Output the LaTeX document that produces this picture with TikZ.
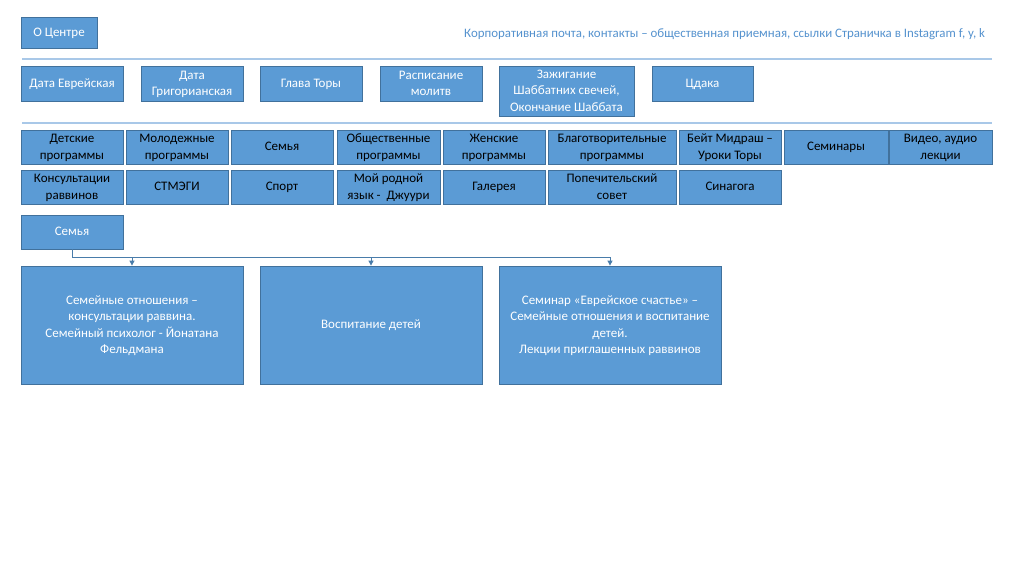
\documentclass[tikz,border=0pt]{standalone}
\usepackage{fontspec}
\setmainfont{Carlito}
\usetikzlibrary{arrows.meta}
\definecolor{boxfill}{HTML}{5B9BD5}
\definecolor{boxline}{HTML}{41719C}
\definecolor{sepline}{HTML}{A9C8E8}
\definecolor{headtxt}{HTML}{5592CE}
\newcommand{\bt}[1]{\smash{\raisebox{-3.5pt}{\begin{tabular}{@{}c@{}}#1\end{tabular}}}}
\tikzset{
  x=1pt, y=-1pt,
  box/.style={draw=boxline, fill=boxfill, line width=0.8pt, inner sep=0pt,
    font=\fontsize{13}{16.5}\selectfont, text=white},
  darktxt/.style={text=black},
  sep/.style={draw=sepline, line width=1.6pt},
  conn/.style={draw=boxfill!80!black, line width=0.9pt},
  arr/.style={conn, -{Triangle[width=5pt,length=5pt]}},
}
\begin{document}
\begin{tikzpicture}
\useasboundingbox (0,0) rectangle (1024,574);
% top
\node[box, minimum width=76pt, minimum height=31pt] (oc) at (59,32.5) {\bt{О Центре}};
\node[anchor=west, text=headtxt, font=\fontsize{12.9}{16}\selectfont, inner sep=0pt] (hd) at (464,34.5)
  {Корпоративная почта, контакты – общественная приемная, ссылки Страничка в Instagram f, y, k};
\draw[sep] (22,59) -- (992,59);
% row 1
\node[box, minimum width=102pt, minimum height=35pt] (de) at (72,83.5) {\bt{Дата Еврейская}};
\node[box, minimum width=102pt, minimum height=35pt] (dg) at (192,83.5) {\bt{Дата\\Григорианская}};
\node[box, minimum width=102pt, minimum height=35pt] (gt) at (311,83.5) {\bt{Глава Торы}};
\node[box, minimum width=102pt, minimum height=35pt] (rm) at (431,83.5) {\bt{Расписание\\молитв}};
\node[box, minimum width=135pt, minimum height=50pt] (zs) at (566.5,91) {\bt{Зажигание\\Шаббатних свечей,\\Окончание Шаббата}};
\node[box, minimum width=101pt, minimum height=35pt] (cd) at (702.5,83.5) {\bt{Цдака}};
\draw[sep] (22,123) -- (992,123);
% row 2
\node[box, darktxt, minimum width=102pt, minimum height=34pt] (r2a) at (72,147) {\bt{Детские\\программы}};
\node[box, darktxt, minimum width=102pt, minimum height=34pt] (r2b) at (177,147) {\bt{Молодежные\\программы}};
\node[box, darktxt, minimum width=102pt, minimum height=34pt] (r2c) at (282,147) {\bt{Семья}};
\node[box, darktxt, minimum width=103pt, minimum height=34pt] (r2d) at (388.5,147) {\bt{Общественные\\программы}};
\node[box, darktxt, minimum width=102pt, minimum height=34pt] (r2e) at (494,147) {\bt{Женские\\программы}};
\node[box, darktxt, minimum width=128pt, minimum height=34pt] (r2f) at (612,147) {\bt{Благотворительные\\программы}};
\node[box, darktxt, minimum width=102pt, minimum height=34pt] (r2g) at (730,147) {\bt{Бейт Мидраш –\\Уроки Торы}};
\node[box, darktxt, minimum width=104pt, minimum height=34pt] (r2h) at (836,147) {\bt{Семинары}};
\node[box, darktxt, minimum width=103pt, minimum height=34pt] (r2i) at (940.5,147) {\bt{Видео, аудио\\лекции}};
% row 3
\node[box, darktxt, minimum width=102pt, minimum height=34pt] (r3a) at (72,187) {\bt{Консультации\\раввинов}};
\node[box, darktxt, minimum width=102pt, minimum height=34pt] (r3b) at (177,187) {\bt{СТМЭГИ}};
\node[box, darktxt, minimum width=102pt, minimum height=34pt] (r3c) at (282,187) {\bt{Спорт}};
\node[box, darktxt, minimum width=103pt, minimum height=34pt] (r3d) at (388.5,187) {\bt{Мой родной\\язык -\ \ Джуури}};
\node[box, darktxt, minimum width=102pt, minimum height=34pt] (r3e) at (494,187) {\bt{Галерея}};
\node[box, darktxt, minimum width=128pt, minimum height=34pt] (r3f) at (612,187) {\bt{Попечительский\\совет}};
\node[box, darktxt, minimum width=102pt, minimum height=34pt] (r3g) at (730,187) {\bt{Синагога}};
% family
\node[box, minimum width=102pt, minimum height=34pt] (sem) at (72,232) {\bt{Семья}};
\node[box, minimum width=222pt, minimum height=118pt] (b1) at (132,325)
  {\bt{Семейные отношения –\\консультации раввина.\\Семейный психолог - Йонатана\\Фельдмана}};
\node[box, minimum width=222pt, minimum height=118pt] (b2) at (371,325) {\bt{Воспитание детей}};
\node[box, minimum width=222pt, minimum height=118pt] (b3) at (610,325)
  {\bt{Семинар «Еврейское счастье» –\\Семейные отношения и воспитание\\детей.\\Лекции приглашенных раввинов}};
% connectors
\coordinate (j1) at (132,257);
\coordinate (j2) at (371,257);
\coordinate (j3) at (610,257);
\draw[conn] (sem.south) |- (j3);
\draw[arr] (j1) -- (b1.north);
\draw[arr] (j2) -- (b2.north);
\draw[arr] (j3) -- (b3.north);
\end{tikzpicture}
\end{document}
